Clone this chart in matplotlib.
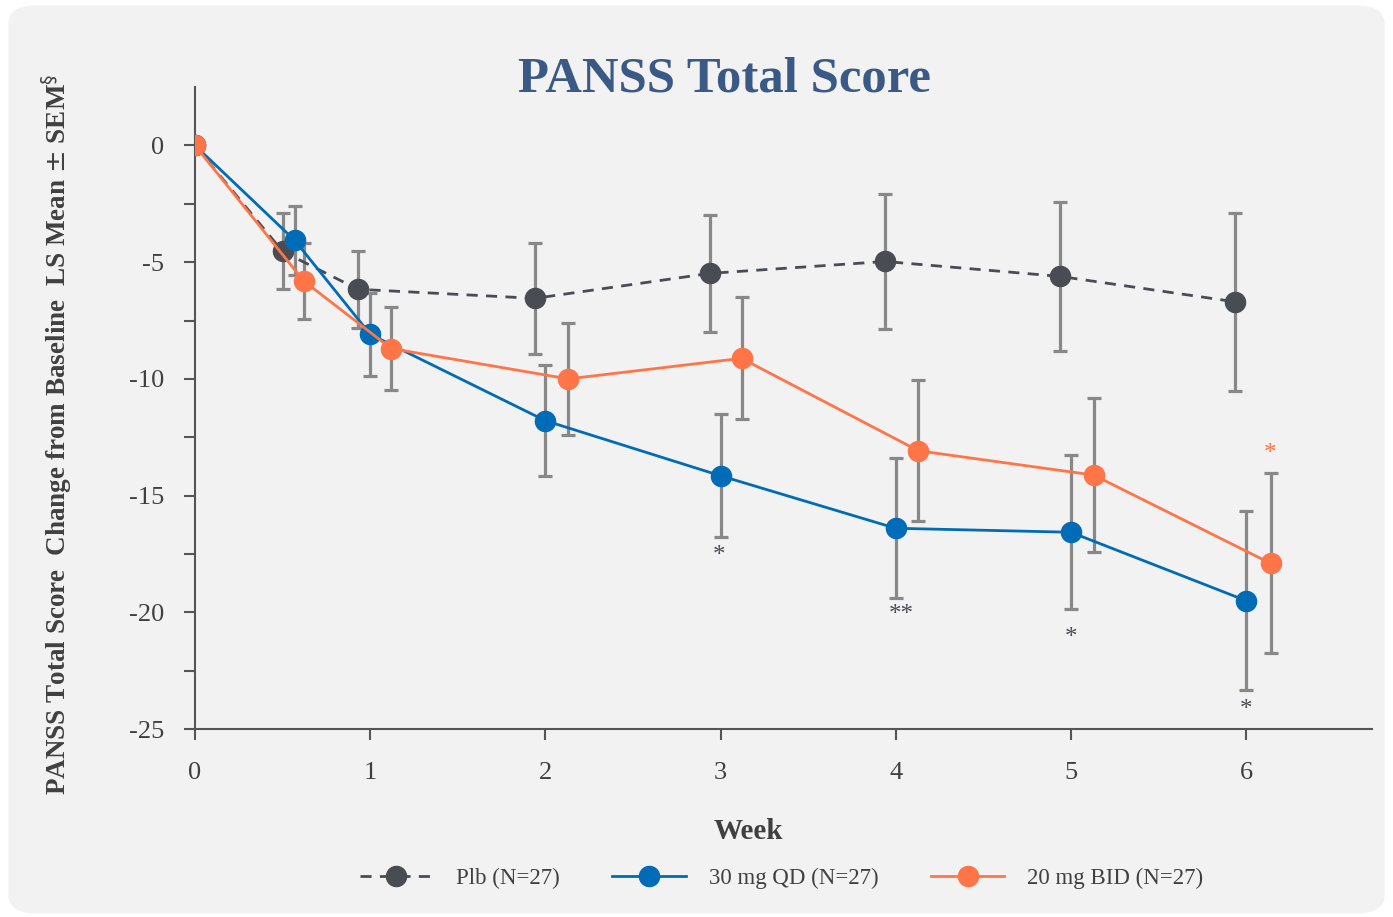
import matplotlib
matplotlib.use("Agg")
import matplotlib.pyplot as plt
from matplotlib.patches import FancyBboxPatch

# weeks on the x axis (groups are slightly offset so the error bars don't overlap)
plb_week = [0, 0.50, 0.93, 1.94, 2.94, 3.94, 4.94, 5.94]
plb_mean = [0, -4.54, -6.16, -6.55, -5.48, -4.97, -5.61, -6.70]
plb_sem = [0, 1.63, 1.64, 2.38, 2.52, 2.89, 3.19, 3.81]

qd_week = [0, 0.57, 1.00, 2.00, 3.00, 4.00, 5.00, 6.00]
qd_mean = [0, -4.07, -8.09, -11.79, -14.15, -16.40, -16.57, -19.50]
qd_sem = [0, 1.49, 1.78, 2.38, 2.63, 3.00, 3.30, 3.84]

bid_week = [0, 0.62, 1.12, 2.13, 3.12, 4.13, 5.13, 6.14]
bid_mean = [0, -5.80, -8.70, -10.0, -9.12, -13.08, -14.12, -17.90]
bid_sem = [0, 1.63, 1.78, 2.40, 2.61, 3.02, 3.30, 3.85]

# significance marks: (week, y, text, colour)
stars = [(2.99, -17.6, "*", "#4a4c54"),
         (4.03, -20.1, "**", "#4a4c54"),
         (5.00, -21.1, "*", "#4a4c54"),
         (6.00, -24.2, "*", "#4a4c54"),
         (6.14, -13.2, "*", "#ff7548")]

labels = ["Plb (N=27)", "30 mg QD (N=27)", "20 mg BID (N=27)"]
week_ticks = [0, 1, 2, 3, 4, 5, 6]

serif = ["Liberation Serif", "DejaVu Serif"]
txt = "#404040"
c_plb = "#4a4c54"
c_qd = "#006bb6"
c_bid = "#ff7548"
c_err = "#888888"

fig = plt.figure(figsize=(13.93, 9.17), dpi=100)
fig.patch.set_facecolor("white")
bg = FancyBboxPatch((0.006, 0.004), 0.988, 0.99, boxstyle="round,pad=0,rounding_size=0.02",
                    transform=fig.transFigure, facecolor="#f2f2f2", edgecolor="none", zorder=-10)
fig.patches.append(bg)

ax = fig.add_axes([0.140, 0.205, 0.845, 0.700])
ax.set_facecolor("none")

for w, m, s in [(plb_week, plb_mean, plb_sem), (qd_week, qd_mean, qd_sem), (bid_week, bid_mean, bid_sem)]:
    ax.errorbar(w[1:], m[1:], yerr=s[1:], fmt="none", ecolor=c_err, elinewidth=2.3,
                capsize=5, capthick=2.3, zorder=2)

h1, = ax.plot(plb_week, plb_mean, "--", color=c_plb, lw=2, marker="o", ms=14.5,
              dashes=(4, 3), zorder=3, label=labels[0])
h2, = ax.plot(qd_week, qd_mean, "-", color=c_qd, lw=2, marker="o", ms=14.5, zorder=4, label=labels[1])
h3, = ax.plot(bid_week, bid_mean, "-", color=c_bid, lw=2, marker="o", ms=14.5, zorder=5, label=labels[2])

for x, y, s, c in stars:
    ax.text(x, y, s, color=c, fontsize=18, ha="center", va="center", family=serif)

ax.set_xlim(0, 6.72)
ax.set_ylim(-25, 2.5)
ax.set_xticks(week_ticks)
ax.set_yticks([0, -5, -10, -15, -20, -25])
ax.set_yticks([-2.5, -7.5, -12.5, -17.5, -22.5], minor=True)
ax.set_yticklabels(["0", "-5", "-10", "-15", "-20", "-25"])

for sp in ["top", "right"]:
    ax.spines[sp].set_visible(False)
for sp in ["left", "bottom"]:
    ax.spines[sp].set_color("#555555")
    ax.spines[sp].set_linewidth(1.5)
ax.tick_params(which="both", color="#555555", width=1.5, length=8, labelcolor=txt, labelsize=19)
ax.tick_params(axis="y", pad=14)
ax.tick_params(axis="x", pad=16)
for lab in ax.get_xticklabels() + ax.get_yticklabels():
    lab.set_family(serif)

fig.text(0.52, 0.913, "PANSS Total Score", ha="center", va="center", fontsize=36.5,
         fontweight="bold", color="#3a5a85", family=serif)
fig.text(0.537, 0.093, "Week", ha="center", va="center", fontsize=21,
         fontweight="bold", color=txt, family=serif)
fig.text(0.041, 0.527, r"PANSS Total Score  Change from Baseline  LS Mean $\pm$ SEM$^{\S}$",
         rotation=90, ha="center", va="center", fontsize=19.5, fontweight="bold",
         color=txt, family=serif)

fig.legend(handles=[h1, h2, h3], loc="center", bbox_to_anchor=(0.561, 0.042), ncol=3,
           frameon=False, prop={"family": serif, "size": 16.5}, labelcolor=txt,
           handlelength=3.2, columnspacing=2.3, handletextpad=1.0)

fig.savefig("out.png", dpi=100, facecolor=fig.get_facecolor())
